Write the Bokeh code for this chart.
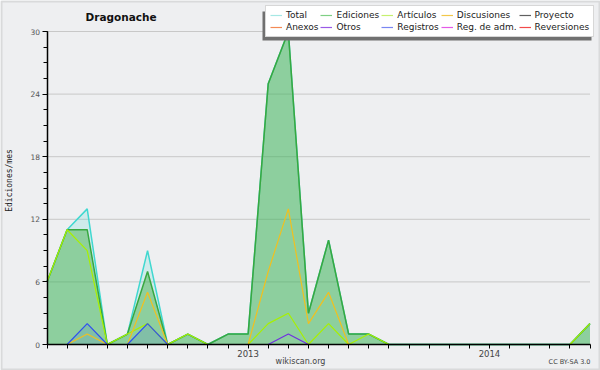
from bokeh.plotting import figure
from bokeh.models import (Legend, LegendItem, Label, SingleIntervalTicker, FixedTicker,
                          ColumnDataSource, BoxAnnotation)
from bokeh.embed import file_html
from bokeh.resources import INLINE
import math

# ---- data ----
months = ["2012-03", "2012-04", "2012-05", "2012-06", "2012-07", "2012-08", "2012-09",
          "2012-10", "2012-11", "2012-12", "2013-01", "2013-02", "2013-03", "2013-04",
          "2013-05", "2013-06", "2013-07", "2013-08", "2013-09", "2013-10", "2013-11",
          "2013-12", "2014-01", "2014-02", "2014-03", "2014-04", "2014-05", "2014-06"]
total =       [6, 11, 13, 0, 1, 9, 0, 1, 0, 1, 1, 25, 30, 3, 10, 1, 1, 0, 0, 0, 0, 0, 0, 0, 0, 0, 0, 2]
ediciones =   [6, 11, 11, 0, 1, 7, 0, 1, 0, 1, 1, 25, 30, 3, 10, 1, 1, 0, 0, 0, 0, 0, 0, 0, 0, 0, 0, 2]
articulos =   [6, 11, 9, 0, 1, 2, 0, 1, 0, 0, 0, 2, 3, 0, 2, 0, 1, 0, 0, 0, 0, 0, 0, 0, 0, 0, 0, 2]
discusiones = [0, 0, 1, 0, 0, 5, 0, 0, 0, 0, 0, 7, 13, 2, 5, 0, 0, 0, 0, 0, 0, 0, 0, 0, 0, 0, 0, 0]
otros =       [0, 0, 0, 0, 0, 0, 0, 0, 0, 0, 0, 0, 1, 0, 0, 0, 0, 0, 0, 0, 0, 0, 0, 0, 0, 0, 0, 0]
registros =   [0, 0, 2, 0, 0, 2, 0, 0, 0, 0, 0, 0, 0, 0, 0, 0, 0, 0, 0, 0, 0, 0, 0, 0, 0, 0, 0, 0]

y_ticks = [0, 6, 12, 18, 24, 30]
title_text = "Dragonache"
y_label = "Ediciones/mes"
x_label = "wikiscan.org"
license_text = "CC BY-SA 3.0"

# legend entries (label, colour), in the reference's row order
legend_entries = [("Total", "#a6e8e4"), ("Ediciones", "#7fcf84"), ("Artículos", "#c6f070"),
                  ("Discusiones", "#f2c84a"), ("Proyecto", "#606060"),
                  ("Anexos", "#f48a55"), ("Otros", "#9a5ae6"), ("Registros", "#7a86f2"),
                  ("Reg. de adm.", "#e45ae8"), ("Reversiones", "#f24a4a")]

# ---- layout (pixels of the 600x370 canvas) ----
W, H = 600, 370
X0_PX, Y0_PX = 46.5, 344.0          # pixel of (first month, 0)
PX_PER_MONTH = (589.5 - X0_PX) / (len(months) - 1)
PX_PER_UNIT = (Y0_PX - 31.0) / y_ticks[-1]

x = list(range(len(months)))
src = ColumnDataSource(dict(x=x, total=total, ediciones=ediciones, articulos=articulos,
                            discusiones=discusiones, otros=otros, registros=registros))

BG = "#eeeff1"
FONT = "DejaVu Sans"

p = figure(width=W, height=H, output_backend="svg", toolbar_location=None,
           x_range=(-X0_PX / PX_PER_MONTH, (W - X0_PX) / PX_PER_MONTH),
           y_range=(-(H - Y0_PX) / PX_PER_UNIT, Y0_PX / PX_PER_UNIT),
           min_border_left=0, min_border_right=0, min_border_top=0, min_border_bottom=0)
p.background_fill_color = BG
p.border_fill_color = BG
p.outline_line_color = None
p.title.visible = False
p.xgrid.visible = False
p.ygrid.visible = False

# horizontal grid lines from the axis to the last month
gy = y_ticks[1:]
p.segment(x0=[0] * len(gy), x1=[len(months) - 1] * len(gy), y0=gy, y1=gy,
          line_color="#c8c8c8", line_width=1)

# areas & lines
p.varea(x="x", y1=0, y2="total", source=src, fill_color="#40d8d0", fill_alpha=0.18)
p.line("x", "total", source=src, line_color="#40d8d0", line_width=1.5)
p.varea(x="x", y1=0, y2="ediciones", source=src, fill_color="#44b04a", fill_alpha=0.48)
p.line("x", "ediciones", source=src, line_color="#38a840", line_width=1.5)
p.varea(x="x", y1=0, y2="registros", source=src, fill_color="#3050f0", fill_alpha=0.12)
p.line("x", "articulos", source=src, line_color="#a8f000", line_width=1.2)
p.line("x", "discusiones", source=src, line_color="#f0c020", line_width=1.2)
p.line("x", "otros", source=src, line_color="#7030e0", line_width=1.2)
p.line("x", "registros", source=src, line_color="#3050f0", line_width=1.2)

# axes (placed at the data origin)
yax = p.yaxis[0]
yax.fixed_location = 0
yax.bounds = (y_ticks[0], y_ticks[-1])
yax.ticker = SingleIntervalTicker(interval=6, num_minor_ticks=4)
yax.axis_line_width = 1.5
yax.major_tick_out = 5
yax.major_tick_in = 0
yax.minor_tick_out = 4
yax.minor_tick_in = 0
yax.major_label_text_font = FONT
yax.major_label_text_font_size = "7.5px"
yax.major_label_text_color = "#555555"
yax.major_label_standoff = 2

xax = p.xaxis[0]
xax.fixed_location = 0
xax.bounds = (0, len(months) - 1)
xax.ticker = FixedTicker(ticks=x)
xax.major_label_overrides = {i: (m[:4] if m.endswith("-01") else "") for i, m in enumerate(months)}
xax.axis_line_width = 1.5
xax.major_tick_out = 4
xax.major_tick_in = 0
xax.minor_tick_out = 0
xax.minor_tick_in = 0
xax.major_label_text_font = FONT
xax.major_label_text_font_size = "8.5px"
xax.major_label_text_color = "#444444"
xax.major_label_standoff = 1

# texts (screen units: from the canvas' bottom-left)
p.add_layout(Label(x=85, y=H - 16, x_units="screen", y_units="screen", text=title_text,
                   text_font=FONT, text_font_style="bold", text_font_size="10.5px",
                   text_baseline="middle", text_color="#111111"))
p.add_layout(Label(x=9, y=H - 180, x_units="screen", y_units="screen", text=y_label,
                   angle=math.pi / 2, text_font="DejaVu Sans Mono", text_font_size="8px",
                   text_align="center", text_baseline="middle", text_color="#222222"))
p.add_layout(Label(x=300, y=H - 361, x_units="screen", y_units="screen", text=x_label,
                   text_font=FONT, text_font_size="8px", text_align="center",
                   text_baseline="middle", text_color="#444444"))
p.add_layout(Label(x=590, y=H - 361, x_units="screen", y_units="screen", text=license_text,
                   text_font=FONT, text_font_size="6.5px", text_align="right",
                   text_baseline="middle", text_color="#444444"))

# outer frame of the image
p.add_layout(BoxAnnotation(left=1, right=W - 1, bottom=1, top=H - 1,
                           left_units="screen", right_units="screen",
                           bottom_units="screen", top_units="screen",
                           fill_alpha=0, line_color="#a8a8a8", line_width=2))

# legend with drop shadow
p.add_layout(BoxAnnotation(left=262, right=591, bottom=H - 40, top=H - 11,
                           left_units="screen", right_units="screen",
                           bottom_units="screen", top_units="screen",
                           fill_color="#707070", fill_alpha=1.0, line_color=None))
items = {}
nan = float("nan")
for name, col in legend_entries:
    r = p.line(x=[nan], y=[nan], line_color=col, line_width=1.2)
    items[name] = LegendItem(label=name, renderers=[r])
ncols = 5
order = []
for c in range(ncols):
    order.append(legend_entries[c][0])
    order.append(legend_entries[c + ncols][0])
legend = Legend(items=[items[n] for n in order], location=(265, H - 37),
                ncols=ncols, orientation="vertical")
legend.label_text_font = FONT
legend.label_text_font_size = "9px"
legend.label_text_color = "#222222"
legend.label_height = 10
legend.glyph_height = 10
legend.glyph_width = 12
legend.label_standoff = 4
legend.spacing = 2
legend.padding = 4
legend.margin = 0
legend.border_line_color = "#b0b0b0"
legend.background_fill_color = "white"
legend.background_fill_alpha = 1.0
p.add_layout(legend, "center")

open("out.html", "w").write(file_html(p, INLINE))
